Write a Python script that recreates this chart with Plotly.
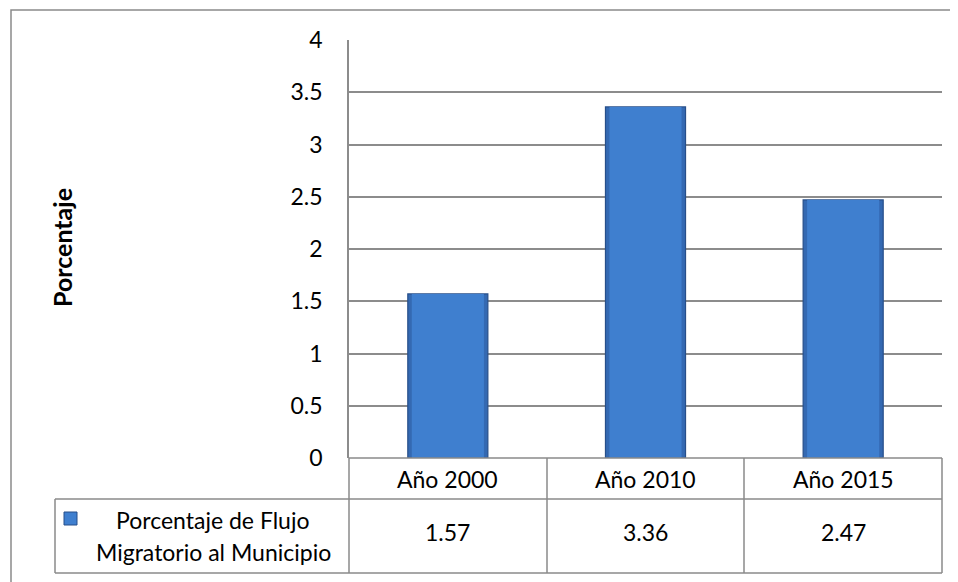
import plotly.graph_objects as go

categories = ["Año 2000", "Año 2010", "Año 2015"]
values = [1.57, 3.36, 2.47]
value_labels = ["1.57", "3.36", "2.47"]
series_name_lines = ["Porcentaje de Flujo", "Migratorio al Municipio"]
y_ticks = [0, 0.5, 1, 1.5, 2, 2.5, 3, 3.5, 4]
y_tick_text = ["0", "0.5", "1", "1.5", "2", "2.5", "3", "3.5", "4"]
y_title = "Porcentaje"

# page body has an 8px default margin: work in page pixels, convert to canvas
OFF = 8
W, H = 958 - OFF, 582 - OFF
L, R, T, B = 349 - OFF, 942 - OFF, 40 - OFF, 458 - OFF
FONT = "Lato, Carlito, Calibri, sans-serif"
GRID = "#8c8c8c"
FS = 23

def px(x):
    return (x - OFF - L) / (R - L)

def py(y):
    return (B - (y - OFF)) / (B - T)

fig = go.Figure()
# outer bar (darker bevel sides)
fig.add_trace(go.Bar(
    x=categories, y=values, width=0.405,
    marker=dict(color="#3469B2", line=dict(color="#274F8A", width=1.2)),
    showlegend=False, hoverinfo="x+y",
))
# inner face of the bar (lighter)
fig.add_trace(go.Bar(
    x=categories, y=values, width=0.365,
    marker=dict(color="#3F7FCF", line=dict(width=0)),
    showlegend=False, hoverinfo="skip",
))

shapes = []
shapes.append(dict(type="rect", xref="paper", yref="paper",
                   x0=px(11), x1=px(975), y0=py(600), y1=py(10),
                   line=dict(color="#8a8a8a", width=1.5), layer="below"))
tl = dict(color="#8a8a8a", width=1.5)
col_edges = [349, 547, 744, 942]
row_top, row_mid, row_bot = 458, 499, 573
shapes.append(dict(type="line", xref="paper", yref="paper", x0=px(55), x1=px(942), y0=py(row_mid), y1=py(row_mid), line=tl))
shapes.append(dict(type="line", xref="paper", yref="paper", x0=px(55), x1=px(942), y0=py(row_bot), y1=py(row_bot), line=tl))
shapes.append(dict(type="line", xref="paper", yref="paper", x0=px(349), x1=px(942), y0=py(row_top), y1=py(row_top), line=tl))
for cx in col_edges:
    shapes.append(dict(type="line", xref="paper", yref="paper", x0=px(cx), x1=px(cx), y0=py(row_top), y1=py(row_bot), line=tl))
shapes.append(dict(type="line", xref="paper", yref="paper", x0=px(55), x1=px(55), y0=py(row_mid), y1=py(row_bot), line=tl))
# legend key square
shapes.append(dict(type="rect", xref="paper", yref="paper", x0=px(64), x1=px(77), y0=py(525), y1=py(512),
                   line=dict(color="#274F8A", width=1), fillcolor="#3F7FCF"))

txt = dict(family=FONT, size=FS, color="#000")
annotations = []
for c, v in zip(categories, value_labels):
    annotations.append(dict(x=c, y=py(479), xref="x", yref="paper", text=c, showarrow=False,
                            font=txt, xanchor="center", yanchor="middle"))
    annotations.append(dict(x=c, y=py(532), xref="x", yref="paper", text=v, showarrow=False,
                            font=txt, xanchor="center", yanchor="middle"))
annotations.append(dict(x=px(213), y=py(520), xref="paper", yref="paper", text=series_name_lines[0], showarrow=False,
                        font=txt, xanchor="center", yanchor="middle"))
annotations.append(dict(x=px(213), y=py(552), xref="paper", yref="paper", text=series_name_lines[1], showarrow=False,
                        font=txt, xanchor="center", yanchor="middle"))
annotations.append(dict(x=px(62), y=py(248), xref="paper", yref="paper", text="<b>" + y_title + "</b>", showarrow=False,
                        textangle=-90, font=dict(family=FONT, size=25, color="#000"), xanchor="center", yanchor="middle"))

fig.update_layout(
    width=W, height=H,
    margin=dict(l=L, r=W - R, t=T, b=H - B, pad=0),
    paper_bgcolor="white", plot_bgcolor="white",
    font=txt,
    barmode="overlay",
    xaxis=dict(showticklabels=False, showgrid=False, zeroline=False, showline=False, ticks=""),
    yaxis=dict(range=[0, 4], tickvals=y_ticks, ticktext=y_tick_text, showgrid=True, gridcolor=GRID, gridwidth=1.6,
               zeroline=False, showline=True, linecolor=GRID, linewidth=1.6, ticks="outside", ticklen=0,
               ticklabelstandoff=20, tickfont=txt),
    shapes=shapes, annotations=annotations,
)

fig.write_html("out.html")
